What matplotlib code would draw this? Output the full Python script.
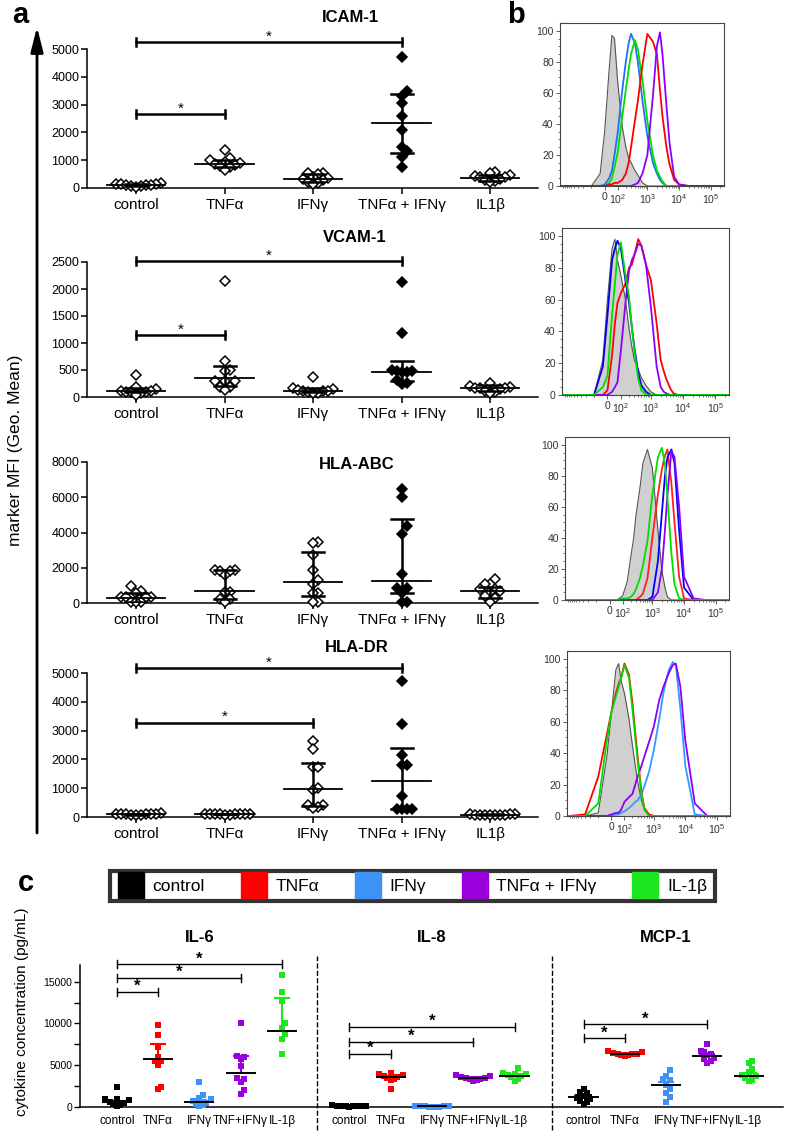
import numpy as np
import matplotlib
matplotlib.use('Agg')
import matplotlib.pyplot as plt
from matplotlib.lines import Line2D
from matplotlib.ticker import FixedLocator, NullFormatter

plt.rcParams['font.family'] = ['Liberation Sans', 'DejaVu Sans']
plt.rcParams['axes.linewidth'] = 1.1
plt.rcParams['mathtext.fontset'] = 'custom'
plt.rcParams['mathtext.rm'] = 'Liberation Sans'
plt.rcParams['mathtext.it'] = 'Liberation Sans'

W, H = 787, 1148
fig = plt.figure(figsize=(W / 100, H / 100), dpi=100)


def rect(l, t, r, b):
    return [l / W, 1 - b / H, (r - l) / W, (b - t) / H]


def swarm(vals, px_per_y, dx, dy):
    """Horizontal offsets (px) so that markers closer than dy vertically are spread by dx."""
    vals = np.asarray(vals, dtype=float)
    order = np.argsort(vals)
    offs = np.zeros(len(vals))
    placed = []
    cands = [0.0]
    for j in range(1, 60):
        cands += [j * dx / 2, -j * dx / 2]
    for i in order:
        y = vals[i] * px_per_y
        for c in cands:
            if all(abs(c - ox) >= dx or abs(y - oy) >= dy for ox, oy in placed):
                offs[i] = c
                placed.append((c, y))
                break
    return offs


# ---------------- panel a data ----------------
cats_a = ['control', 'TNFα', 'IFNγ', 'TNFα + IFNγ', 'IL1β']

icam_vals = [[180, 160, 150, 130, 120, 100, 90, 80, 60, 40],
             [1350, 1080, 1000, 950, 900, 850, 820, 780, 760, 660],
             [550, 530, 520, 400, 360, 330, 280, 220, 180, 130],
             [4700, 3490, 3320, 3040, 2580, 2100, 1480, 1330, 1120, 760],
             [580, 540, 480, 420, 400, 380, 340, 300, 260, 220]]
icam_med = [96, 877, 312, 2340, 373]
icam_q1 = [70, 770, 200, 1270, 260]
icam_q3 = [140, 1000, 500, 3390, 480]
icam_sig = [(0, 1, 2657), (0, 3, 5240)]

vcam_vals = [[400, 180, 150, 120, 110, 100, 100, 90, 70, 40],
             [2140, 675, 500, 490, 300, 300, 290, 180, 180, 135],
             [370, 170, 140, 130, 120, 110, 105, 90, 80, 70],
             [2130, 1190, 500, 490, 480, 470, 460, 320, 260, 240],
             [260, 200, 180, 170, 165, 160, 150, 120, 100, 80]]
vcam_med = [117, 350, 117, 455, 166]
vcam_q1 = [90, 200, 90, 300, 110]
vcam_q3 = [160, 565, 165, 670, 220]
vcam_sig = [(0, 1, 1148), (0, 3, 2510)]

abc_vals = [[960, 660, 570, 340, 340, 330, 320, 60, 50, 40],
            [1900, 1850, 1820, 1800, 1600, 650, 600, 220, 200, 60],
            [3450, 3400, 2750, 1900, 1300, 1100, 570, 550, 60, 50],
            [6490, 6010, 4350, 3930, 1660, 870, 870, 570, 60, 60],
            [1350, 1100, 1050, 820, 800, 700, 650, 400, 300, 60]]
abc_med = [300, 660, 1170, 1230, 680]
abc_q1 = [80, 200, 380, 570, 280]
abc_q3 = [560, 1890, 2890, 4750, 910]
abc_sig = []

dr_vals = [[130, 120, 110, 100, 100, 90, 90, 80, 70, 60],
           [120, 110, 105, 100, 100, 95, 90, 90, 85, 80],
           [2650, 2350, 1730, 1730, 1000, 940, 420, 420, 330, 325],
           [4710, 3225, 2160, 1810, 1810, 730, 280, 280, 280, 280],
           [100, 95, 90, 85, 80, 80, 75, 70, 65, 60]]
dr_med = [95, 100, 975, 1264, 80]
dr_q1 = [75, 90, 394, 280, 70]
dr_q3 = [120, 110, 1890, 2410, 95]
dr_sig = [(0, 2, 3280), (0, 3, 5170)]

panels_a = [
    ('ICAM-1', icam_vals, icam_med, icam_q1, icam_q3, icam_sig, 5000, 1000, (87, 49, 538, 188), (350, 18)),
    ('VCAM-1', vcam_vals, vcam_med, vcam_q1, vcam_q3, vcam_sig, 2500, 500, (87, 262, 538, 397), (355, 237)),
    ('HLA-ABC', abc_vals, abc_med, abc_q1, abc_q3, abc_sig, 8000, 2000, (87, 462, 538, 603), (357, 465)),
    ('HLA-DR', dr_vals, dr_med, dr_q1, dr_q3, dr_sig, 5000, 1000, (87, 673, 538, 817), (357, 647)),
]

CAT_PX = 88.5
for title, vals, med, q1, q3, sig, ymax, ystep, box, tpos in panels_a:
    ax = fig.add_axes(rect(*box))
    ax.set_xlim(-0.554, 4.54)
    ax.set_ylim(0, ymax)
    hpx = box[3] - box[1]
    ppy = hpx / ymax
    for i, v in enumerate(vals):
        offs = swarm(v, ppy, 5.0, 7.5) / CAT_PX
        filled = (i == 3)
        ax.plot(i + offs, v, ls='', marker='D', ms=5.0,
                mfc='black' if filled else 'white', mec='black', mew=1.1,
                clip_on=False, zorder=3)
        ax.plot([i - 0.33, i + 0.33], [med[i], med[i]], color='black', lw=1.3, zorder=4)
        ax.plot([i, i], [q1[i], q3[i]], color='black', lw=1.8, zorder=4, solid_capstyle='butt')
        for q in (q1[i], q3[i]):
            ax.plot([i - 0.125, i + 0.125], [q, q], color='black', lw=1.8, zorder=4)
    cap = 4 / ppy
    for i, j, y in sig:
        ax.plot([i, j], [y, y], color='black', lw=1.8, clip_on=False)
        for k in (i, j):
            ax.plot([k, k], [y - cap, y + cap], color='black', lw=1.8, clip_on=False)
        ax.text((i + j) / 2, y + 1.5 / ppy, '*', ha='center', va='baseline', fontsize=11)
    ax.spines['top'].set_visible(False)
    ax.spines['right'].set_visible(False)
    ax.set_yticks(np.arange(0, ymax + 1, ystep))
    ax.set_xticks(range(5))
    ax.set_xticklabels(cats_a, fontsize=11)
    ax.tick_params(axis='y', labelsize=9, length=4, width=1.1, pad=1.5)
    ax.tick_params(axis='x', length=4, width=1.1, pad=3)
    fig.text(tpos[0] / W, 1 - tpos[1] / H, title, ha='center', va='center',
             fontsize=12, fontweight='bold')

# ---------------- panel b data (histograms) ----------------
hist_x = [-1000, -300, -100, -30, 0, 30, 50, 70, 100, 150, 200, 250, 300, 400, 500,
          700, 1000, 1500, 2000, 2500, 3000, 4000, 5000, 7000, 10000, 20000, 50000, 262143]

gray1 = [0, 0, 0, 8, 35, 75, 97, 95, 66, 38, 25, 18, 15, 10, 7, 2, 0, 0, 0, 0, 0, 0, 0, 0, 0, 0, 0, 0]
blue1 = [0, 0, 0, 0, 1, 5, 10, 20, 35, 62, 80, 92, 98, 92, 80, 55, 32, 15, 8, 4, 2, 0, 0, 0, 0, 0, 0, 0]
green1 = [0, 0, 0, 0, 0, 2, 5, 12, 22, 45, 62, 75, 85, 94, 88, 68, 42, 20, 10, 6, 3, 0, 0, 0, 0, 0, 0, 0]
red1 = [0, 0, 0, 0, 0, 1, 1, 2, 2, 4, 8, 15, 25, 42, 55, 78, 98, 93, 85, 62, 45, 25, 14, 4, 1, 0, 0, 0]
purple1 = [0, 0, 0, 0, 0, 0, 0, 0, 0, 0, 0, 0, 0, 1, 2, 8, 20, 58, 90, 99, 85, 52, 28, 6, 1, 0, 0, 0]

gray2 = [0, 0, 0, 22, 60, 92, 98, 85, 75, 60, 42, 30, 22, 16, 11, 6, 2, 0, 0, 0, 0, 0, 0, 0, 0, 0, 0, 0]
blue2 = [0, 0, 0, 18, 50, 85, 92, 97, 92, 72, 58, 42, 30, 14, 6, 2, 0, 0, 0, 0, 0, 0, 0, 0, 0, 0, 0, 0]
green2 = [0, 0, 0, 5, 12, 50, 70, 88, 96, 75, 62, 42, 28, 10, 3, 0, 0, 0, 0, 0, 0, 0, 0, 0, 0, 0, 0, 0]
red2 = [0, 0, 0, 0, 3, 25, 45, 58, 64, 70, 80, 82, 88, 98, 94, 82, 72, 45, 22, 15, 10, 4, 1, 0, 0, 0, 0, 0]
purple2 = [0, 0, 0, 0, 0, 2, 5, 8, 28, 58, 78, 85, 88, 95, 94, 82, 55, 18, 5, 2, 1, 0, 0, 0, 0, 0, 0, 0]

gray3 = [0, 0, 0, 0, 0, 0, 0, 1, 3, 12, 28, 40, 55, 72, 88, 97, 85, 45, 19, 8, 2, 0, 0, 0, 0, 0, 0, 0]
green3 = [0, 0, 0, 0, 0, 0, 0, 1, 1, 1, 2, 4, 7, 14, 22, 38, 68, 92, 98, 88, 66, 30, 10, 1, 0, 0, 0, 0]
red3 = [0, 0, 0, 0, 0, 0, 0, 0, 0, 0, 0, 0, 0, 2, 4, 14, 40, 68, 84, 93, 97, 75, 50, 15, 1, 0, 0, 0]
blue3 = [0, 0, 0, 0, 0, 0, 0, 0, 0, 0, 0, 0, 0, 0, 0, 0, 2, 25, 56, 80, 92, 97, 88, 45, 8, 0, 0, 0]
purple3 = [0, 0, 0, 0, 0, 0, 0, 0, 0, 0, 0, 0, 0, 0, 0, 0, 0, 5, 20, 45, 68, 96, 92, 60, 15, 1, 0, 0]

gray4 = [0, 0, 2, 38, 65, 93, 97, 86, 78, 62, 45, 32, 22, 10, 4, 1, 0, 0, 0, 0, 0, 0, 0, 0, 0, 0, 0, 0]
red4 = [0, 1, 25, 52, 66, 78, 84, 88, 97, 90, 72, 53, 38, 15, 5, 1, 0, 0, 0, 0, 0, 0, 0, 0, 0, 0, 0, 0]
green4 = [0, 0, 8, 48, 66, 76, 82, 88, 96, 88, 68, 50, 35, 14, 4, 0, 0, 0, 0, 0, 0, 0, 0, 0, 0, 0, 0, 0]
blue4 = [0, 0, 0, 0, 0, 1, 1, 2, 3, 5, 7, 9, 10, 14, 19, 28, 42, 62, 78, 87, 93, 98, 96, 68, 32, 1, 0, 0]
purple4 = [0, 0, 0, 0, 1, 2, 2, 4, 9, 12, 14, 20, 25, 32, 38, 47, 57, 74, 82, 87, 91, 96, 97, 82, 48, 8, 0, 0]

hist_panels = [
    ((560, 23, 724, 186), gray1, [(blue1, '#1f6fff'), (green1, '#00dd00'), (red1, '#ff0000'), (purple1, '#8a00ff')]),
    ((562, 228, 729, 395), gray2, [(red2, '#ff0000'), (purple2, '#8a00ff'), (blue2, '#0000ee'), (green2, '#00dd00')]),
    ((565, 437, 729, 600), gray3, [(red3, '#ff2020'), (blue3, '#0000ff'), (purple3, '#8a00ff'), (green3, '#00dd00')]),
    ((567, 651, 730, 816), gray4, [(blue4, '#3399ff'), (purple4, '#8a00ff'), (red4, '#ff0000'), (green4, '#00dd00')]),
]
hist_ticks = [0, 100, 1000, 10000, 100000]
hist_ticklabels = ['0', '$10^2$', '$10^3$', '$10^4$', '$10^5$']
hist_minor = ([-m * 100 for m in range(1, 10)] + [m * 100 for m in range(2, 10)] +
              [m * 1000 for m in range(2, 10)] + [m * 10000 for m in range(2, 10)] + [200000])

for box, gray, curves in hist_panels:
    ax = fig.add_axes(rect(*box))
    ax.set_xscale('asinh', linear_width=90)
    ax.set_xlim(-1150, 262143)
    ax.set_ylim(0, 105)
    ax.fill_between(hist_x, gray, color='#d0d0d0', lw=0)
    ax.plot(hist_x, gray, color='#555555', lw=0.8)
    for ys, c in curves:
        ax.plot(hist_x, ys, color=c, lw=1.3)
    ax.xaxis.set_major_locator(FixedLocator(hist_ticks))
    ax.set_xticklabels(hist_ticklabels)
    ax.xaxis.set_minor_locator(FixedLocator(hist_minor))
    ax.xaxis.set_minor_formatter(NullFormatter())
    ax.set_yticks([0, 20, 40, 60, 80, 100])
    ax.yaxis.set_minor_locator(FixedLocator(np.arange(0, 105, 5)))
    ax.tick_params(labelsize=7.5, labelcolor='#333333', length=3, width=0.6, pad=1.5, color='#444444')
    ax.tick_params(which='minor', length=1.5, width=0.5, color='#444444')
    for s in ax.spines.values():
        s.set_linewidth(0.8)
        s.set_color('#444444')

# ---------------- panel c data ----------------
cats_c = ['control', 'TNFα', 'IFNγ', 'TNF+IFNγ', 'IL-1β']
colors_c = ['#000000', '#ff0000', '#3f92f5', '#9a00dc', '#1ee61e']
cytokines = ['IL-6', 'IL-8', 'MCP-1']
group_start = [0.0, 5.63, 11.3]

il6_vals = [[2350, 1000, 950, 800, 650, 500, 400, 250, 150],
            [9800, 8600, 7200, 5950, 5450, 5450, 5050, 2350, 2200],
            [3000, 1450, 1100, 900, 700, 500, 300, 200, 100],
            [10100, 6100, 5950, 5700, 4850, 3450, 3350, 3000, 2000, 1600],
            [15750, 13750, 12650, 10100, 9500, 8700, 8100, 6350]]
il6_mean = [600, 5710, 600, 4130, 9090]
il6_err = [150, 1870, 200, 1980, 3960]
il6_sig = [(0, 1, 13760), (0, 3, 15430), (0, 4, 17060)]

il8_vals = [[200, 150, 130, 120, 100, 90, 80, 60, 40],
            [4050, 3950, 3850, 3700, 3600, 3450, 3400, 3200, 2200],
            [150, 120, 100, 80, 60, 50, 30, 20, 10],
            [3850, 3750, 3600, 3500, 3450, 3400, 3300, 3200, 3100],
            [4700, 4100, 4000, 3900, 3800, 3700, 3600, 3400, 3100]]
il8_mean = [100, 3570, 70, 3450, 3770]
il8_err = [20, 200, 20, 100, 150]
il8_sig = [(0, 1, 6350), (0, 3, 7820), (0, 4, 9610)]

mcp_vals = [[2200, 1850, 1650, 1300, 1100, 900, 750, 600, 300],
            [6650, 6550, 6450, 6400, 6350, 6300, 6250, 6200, 6150],
            [4450, 3750, 3350, 3250, 2650, 2150, 1650, 1200, 650],
            [7500, 6700, 6600, 6400, 6200, 5900, 5750, 5450, 5250],
            [5500, 5250, 4550, 4200, 3850, 3700, 3450, 3250, 3100]]
mcp_mean = [1190, 6350, 2580, 6110, 3770]
mcp_err = [250, 60, 400, 250, 250]
mcp_sig = [(0, 1, 8210), (0, 3, 9880)]

c_sets = [(il6_vals, il6_mean, il6_err, il6_sig),
          (il8_vals, il8_mean, il8_err, il8_sig),
          (mcp_vals, mcp_mean, mcp_err, mcp_sig)]

cbox = (80, 965, 783, 1107)
axc = fig.add_axes(rect(*cbox))
axc.set_xlim(-0.89, 16.13)
axc.set_ylim(0, 17000)
ppy_c = (cbox[3] - cbox[1]) / 17000
C_PX = 41.3
tick_pos, tick_lab = [], []
for g, (vals, mean, err, sig) in enumerate(c_sets):
    base = group_start[g]
    for i, v in enumerate(vals):
        x = base + i
        offs = swarm(v, ppy_c, 3.4, 7.0) / C_PX
        axc.plot(x + offs, v, ls='', marker='s', ms=5, mfc=colors_c[i], mec=colors_c[i],
                 mew=0, clip_on=False, zorder=3)
        axc.plot([x, x], [mean[i], mean[i] + err[i]], color=colors_c[i], lw=1.5, zorder=4)
        axc.plot([x - 0.17, x + 0.17], [mean[i] + err[i]] * 2, color=colors_c[i], lw=1.5, zorder=4)
        axc.plot([x - 0.34, x + 0.34], [mean[i], mean[i]], color='black', lw=1.4, zorder=5)
        tick_pos.append(x)
        tick_lab.append(cats_c[i])
    cap = 4 / ppy_c
    for i, j, y in sig:
        xi, xj = base + i, base + j
        axc.plot([xi, xj], [y, y], color='black', lw=1.0, clip_on=False)
        for k in (xi, xj):
            axc.plot([k, k], [y - cap, y + cap], color='black', lw=1.0, clip_on=False)
        axc.text((xi + xj) / 2, y + 1.0 / ppy_c, '*', ha='center', va='baseline',
                 fontsize=12, fontweight='bold')
    fig.text((80 + (base + 2 + 0.89) * C_PX) / W, 1 - 937 / H, cytokines[g],
             ha='center', va='center', fontsize=12, fontweight='bold')

for xd in (4.85, 10.54):
    axc.axvline(xd, ymin=-0.161, ymax=1.064, ls='--', color='black', lw=1.0, clip_on=False)

axc.set_xticks(tick_pos)
axc.set_xticklabels(tick_lab, fontsize=8.5)
axc.tick_params(axis='x', length=0, pad=6)
axc.set_yticks(np.arange(0, 15001, 2500))
axc.set_yticklabels(['0', '', '5000', '', '10000', '', '15000'])
axc.tick_params(axis='y', labelsize=7.5, length=4, width=1.0, pad=1.5)
axc.spines['top'].set_visible(False)
axc.spines['right'].set_visible(False)

handles = [Line2D([], [], ls='', marker='s', ms=19, mfc=c, mec=c) for c in colors_c]
leg_labels = ['control', 'TNFα', 'IFNγ', 'TNFα + IFNγ', 'IL-1β']
leg = fig.legend(handles, leg_labels, loc='center',
                 bbox_to_anchor=(110 / W, 1 - 907 / H, 605 / W, 42 / H), mode='expand',
                 ncol=5, frameon=True, fancybox=False, edgecolor='black', fontsize=12.5,
                 handlelength=1.5, handletextpad=0.5, borderpad=0.45, borderaxespad=0,
                 columnspacing=1.0)
leg.get_frame().set_linewidth(3)

# ---------------- overlay: arrow, axis titles, panel letters ----------------
ov = fig.add_axes([0, 0, 1, 1], facecolor='none')
ov.set_xlim(0, W)
ov.set_ylim(H, 0)
ov.axis('off')
ov.annotate('', xy=(37, 27), xytext=(37, 833),
            arrowprops=dict(arrowstyle='-|>,head_width=0.38,head_length=1.5', lw=2,
                            color='black', shrinkA=0, shrinkB=0))
ov.text(16, 450, 'marker MFI (Geo. Mean)', rotation=90, ha='center', va='center', fontsize=12.5)
ov.text(22, 1012, 'cytokine concentration (pg/mL)', rotation=90, ha='center', va='center',
        fontsize=11)
ov.text(20, 15, 'a', ha='center', va='center', fontsize=21, fontweight='bold')
ov.text(516, 15, 'b', ha='center', va='center', fontsize=21, fontweight='bold')
ov.text(26, 883, 'c', ha='center', va='center', fontsize=21, fontweight='bold')

fig.savefig('out.png', dpi=100)
